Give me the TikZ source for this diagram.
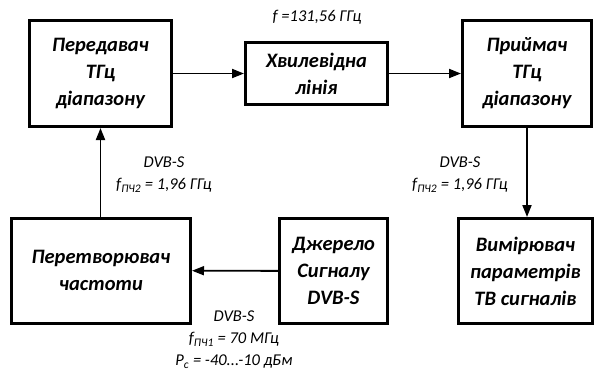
\documentclass[tikz,border=0pt]{standalone}
\usepackage{fontspec}
\setmainfont{Carlito}
\usetikzlibrary{arrows.meta}

\begin{document}
\begin{tikzpicture}[
        x                       = 1pt,
        y                       = -1pt,
        block/.style            = {draw, line width=3pt, align=center, inner sep=0pt,
                                   font=\bfseries\itshape\fontsize{20.5}{27}\selectfont},
        note/.style             = {align=center, inner sep=0pt,
                                   font=\itshape\fontsize{16.5}{22}\selectfont},
        link/.style             = {draw, line width=1.8pt, -{Triangle[length=12pt, width=9pt]}},
      ]
        \useasboundingbox (0,0) rectangle (595,368);
        % top row
        \node[block, minimum width=142pt, minimum height=106pt] (tx) at (100.5,73.5)
            {Передавач\\ТГц\\діапазону};
        \node[block, minimum width=142pt, minimum height=62pt] (wg) at (316.5,73.5)
            {Хвилевідна\\лінія};
        \node[block, minimum width=129pt, minimum height=106pt] (rx) at (527,73.5)
            {Приймач\\ТГц\\діапазону};
        % bottom row
        \node[block, minimum width=179pt, minimum height=105pt] (conv) at (101,270.5)
            {Перетворювач\\частоти};
        \node[block, minimum width=108pt, minimum height=105pt] (src) at (333.5,271)
            {Джерело\\Сигналу\\DVB-S};
        \node[block, minimum width=134pt, minimum height=105pt] (meas) at (525.5,271)
            {Вимірювач\\параметрів\\ТВ сигналів};
        % connectors
        \draw[link] (tx) -- (wg);
        \draw[link] (wg) -- (rx);
        \draw[link] (src) -- (conv);
        \draw[link] (conv.north -| tx.south) -- (tx.south);
        \draw[link] (rx.south) -- (rx.south |- meas.north);
        % labels
        \node[note] (fwg) at (317,17) {f =131,56 ГГц};
        \node[note] (lif) at (164,175) {DVB-S\\f\textsubscript{ПЧ2} = 1,96 ГГц};
        \node[note] (rif) at (460,175) {DVB-S\\f\textsubscript{ПЧ2} = 1,96 ГГц};
        \node[note] (sif) at (234,340) {DVB-S\\f\textsubscript{ПЧ1} = 70 МГц\\P\textsubscript{с} = -40...-10 дБм};
    \end{tikzpicture}
\end{document}
